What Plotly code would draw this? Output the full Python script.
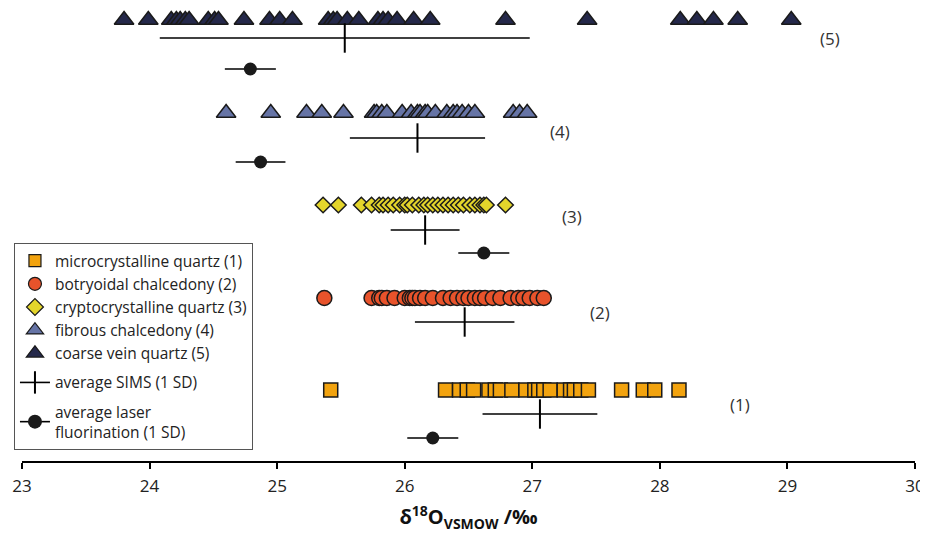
import plotly.graph_objects as go

# ---------------- data (δ18O, ‰ VSMOW) ----------------
micro_quartz = [25.42, 26.32, 26.43, 26.49, 26.54, 26.66, 26.71, 26.75, 26.84, 26.95,
                27.02, 27.05, 27.09, 27.14, 27.25, 27.30, 27.33, 27.38, 27.44,
                27.70, 27.87, 27.96, 28.15]
botryoidal = [25.37, 25.74, 25.80, 25.82, 25.86, 25.92, 26.00, 26.04, 26.06, 26.08,
              26.12, 26.16, 26.22, 26.30, 26.36, 26.41, 26.46, 26.50, 26.55, 26.59,
              26.63, 26.69, 26.75, 26.83, 26.89, 26.93, 26.98, 27.04, 27.09]
crypto_quartz = [25.36, 25.48, 25.66, 25.74, 25.80, 25.83, 25.87, 25.91, 25.96, 26.00,
                 26.02, 26.06, 26.11, 26.15, 26.18, 26.22, 26.26, 26.30, 26.34, 26.38,
                 26.42, 26.46, 26.51, 26.55, 26.59, 26.62, 26.64, 26.79]
fibrous = [24.60, 24.95, 25.23, 25.35, 25.52, 25.76, 25.78, 25.82, 25.86, 25.98,
           26.05, 26.10, 26.12, 26.16, 26.18, 26.24, 26.33, 26.38, 26.41, 26.45,
           26.50, 26.55, 26.85, 26.90, 26.96]
coarse_vein = [23.80, 23.99, 24.17, 24.21, 24.24, 24.28, 24.31, 24.46, 24.51, 24.54,
               24.74, 24.94, 25.02, 25.12, 25.40, 25.44, 25.47, 25.55, 25.64, 25.79,
               25.83, 25.87, 25.94, 26.07, 26.20, 26.79, 27.43, 28.16, 28.29, 28.42,
               28.61, 29.03]

group_labels = ["(1)", "(2)", "(3)", "(4)", "(5)"]
sims_mean = [27.06, 26.47, 26.16, 26.10, 25.53]
sims_sd = [0.45, 0.39, 0.27, 0.53, 1.45]
laser_mean = [26.22, None, 26.62, 24.87, 24.79]
laser_sd = [0.20, None, 0.20, 0.195, 0.20]

series_names = ["microcrystalline quartz (1)", "botryoidal chalcedony (2)",
                "cryptocrystalline quartz (3)", "fibrous chalcedony (4)",
                "coarse vein quartz (5)"]
series_values = [micro_quartz, botryoidal, crypto_quartz, fibrous, coarse_vein]
x_ticks = [23, 24, 25, 26, 27, 28, 29, 30]

# ---------------- layout of rows (vertical levels, arbitrary units) ----------------
row_marker_y = [71, 163, 256, 348, 441]
row_sims_y = [47, 139, 231, 323, 423]
row_laser_y = [23, None, 208, 299, 392]
label_pos = [(28.63, 57), (27.53, 149), (27.31, 245), (27.22, 330), (29.33, 423)]

styles = [
    dict(symbol="square", color="#F2A30F", size=14, lsize=12),
    dict(symbol="circle", color="#E8532B", size=15, lsize=13),
    dict(symbol="diamond", color="#E4D52B", size=12, lsize=13),
    dict(symbol="triangle-up", color="#6674A6", size=17, lsize=15),
    dict(symbol="triangle-up", color="#24284A", size=17, lsize=15),
]
EDGE = "#1a1a1a"
FONT = "Open Sans"

fig = go.Figure()

for name, vals, y, st in zip(series_names, series_values, row_marker_y, styles):
    fig.add_trace(go.Scatter(
        x=vals, y=[y] * len(vals), mode="markers", showlegend=False,
        marker=dict(symbol=st["symbol"], size=st["size"], color=st["color"],
                    line=dict(color=EDGE, width=1.5)),
        hoverinfo="x"))

# SIMS averages
fig.add_trace(go.Scatter(
    x=sims_mean, y=row_sims_y, mode="markers", showlegend=False,
    marker=dict(symbol="line-ns", size=21, color="black", line=dict(color="black", width=2)),
    error_x=dict(type="data", array=sims_sd, width=0, thickness=1.6, color="black")))

# laser fluorination averages
lx = [m for m in laser_mean if m is not None]
ly = [y for m, y in zip(laser_mean, row_laser_y) if m is not None]
lsd = [s for s in laser_sd if s is not None]
fig.add_trace(go.Scatter(
    x=lx, y=ly, mode="markers", showlegend=False,
    marker=dict(symbol="circle", size=13, color="#1a1a1a"),
    error_x=dict(type="data", array=lsd, width=0, thickness=1.6, color="black")))

# legend-only entries
for name, st in zip(series_names, styles):
    fig.add_trace(go.Scatter(
        x=[None], y=[None], mode="markers", name=name, legendgroup="m",
        marker=dict(symbol=st["symbol"], size=st["lsize"], color=st["color"],
                    line=dict(color=EDGE, width=1.2))))
fig.add_trace(go.Scatter(
    x=[None], y=[None], mode="lines+markers", name="average SIMS (1 SD)", legendgroup="s",
    line=dict(color="black", width=1.6),
    marker=dict(symbol="line-ns", size=20, color="black", line=dict(color="black", width=2))))
fig.add_trace(go.Scatter(
    x=[None], y=[None], mode="lines+markers", name="average laser<br>fluorination (1 SD)",
    legendgroup="l", line=dict(color="black", width=1.6),
    marker=dict(symbol="circle", size=14, color="#1a1a1a")))

for lab, (lxp, lyp) in zip(group_labels, label_pos):
    fig.add_annotation(x=lxp, y=lyp, text=lab, showarrow=False,
                       font=dict(family=FONT, size=17, color="#333"))

# the page body adds an 8px offset, so the figure is sized 920x530
fig.update_layout(
    width=920, height=530,
    margin=dict(l=14, r=13, t=0, b=77, autoexpand=False),
    plot_bgcolor="white", paper_bgcolor="white",
    font=dict(family=FONT, color="#222"),
    xaxis=dict(range=[23, 30], tickvals=x_ticks, ticktext=[str(t) for t in x_ticks],
               showgrid=False, zeroline=False, showline=True, linecolor="black", linewidth=2,
               ticks="outside", ticklen=6, tickwidth=1.5, tickcolor="black", automargin=False,
               ticklabelstandoff=3,
               tickfont=dict(family=FONT, size=17, color="#222"),
               title=dict(text="<b>δ<sup>18</sup>O<sub>VSMOW</sub> /‰</b>",
                          font=dict(family=FONT, size=20, color="#111"), standoff=14)),
    yaxis=dict(range=[0, 453], visible=False, showgrid=False, zeroline=False),
    legend=dict(x=-0.009, y=0.481, xanchor="left", yanchor="top",
                bordercolor="#555", borderwidth=1, bgcolor="white",
                font=dict(family=FONT, size=15.5, color="#222"),
                traceorder="grouped", tracegroupgap=6, itemwidth=30),
    showlegend=True,
)

fig.write_html("out.html")
